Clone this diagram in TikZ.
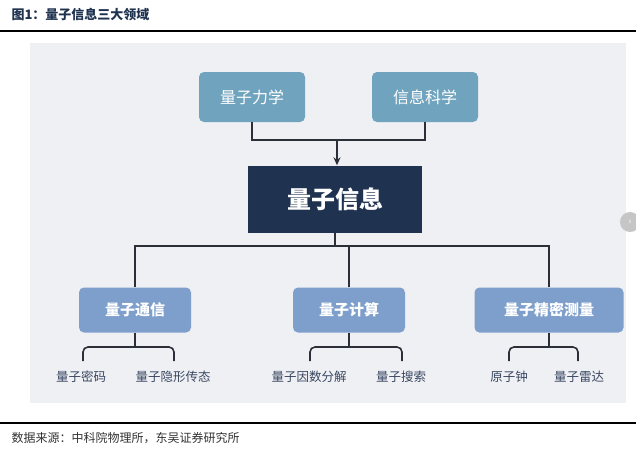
\documentclass[tikz,border=0pt]{standalone}
\usepackage{fontspec}
\setmainfont{Noto Sans CJK SC}
\usetikzlibrary{arrows.meta}
\definecolor{topc}{HTML}{6FA3BE}
\definecolor{midc}{HTML}{7E9FCB}
\definecolor{mainc}{HTML}{1F3350}
\definecolor{panel}{HTML}{EEF0F4}
\definecolor{leaftxt}{HTML}{3A4660}
\definecolor{linec}{HTML}{2A2F38}
\begin{document}
\begin{tikzpicture}[x=1pt,y=-1pt,
  topbox/.style={fill=topc,rounded corners=5pt,minimum width=106pt,minimum height=50pt,text=white,font=\fontsize{16}{16}\selectfont},
  midbox/.style={fill=midc,rounded corners=5pt,minimum height=45pt,text=white,font=\fontsize{15}{15}\selectfont\bfseries},
  leaf/.style={text=leaftxt,font=\fontsize{12.5}{12.5}\selectfont},
  conn/.style={draw=linec,line width=1.6pt},
  br/.style={draw=linec,line width=1.6pt,rounded corners=5pt}]
\useasboundingbox (0,0) rectangle (636,450);
\fill[white] (0,0) rectangle (636,450);
\node[anchor=west,text=mainc,font=\fontsize{13}{13}\selectfont\bfseries] (title) at (8,15) {图1：量子信息三大领域};
\draw[line width=1.4pt] (0,31) -- (636,31);
\fill[panel] (30,43) rectangle (626,403);
\fill[gray!45] (630,222) circle (10pt);
\node[text=white,font=\small] (more) at (630,222) {›};
\node[topbox] (qm) at (252,97) {量子力学};
\node[topbox] (is) at (425,97) {信息科学};
\node[fill=mainc,minimum width=174pt,minimum height=67pt,text=white,font=\fontsize{24}{24}\selectfont\bfseries] (qi) at (335,199) {量子信息};
\node[midbox,minimum width=112pt] (qc) at (135,310) {量子通信};
\node[midbox,minimum width=112pt] (qcomp) at (349,310) {量子计算};
\node[midbox,minimum width=149pt] (qp) at (549,310) {量子精密测量};
\coordinate (j1) at (337,140);
\draw[conn] (qm.south) |- (j1) -| (is.south);
\draw[conn,-{Stealth[length=8pt,width=7pt]}] (j1) -- (j1 |- qi.north);
\coordinate (j2) at (335,246);
\draw[conn] (qi.south) -- (j2);
\draw[conn] (qc.north) |- (j2) -| (qp.north);
\draw[conn] (qcomp.north) -- (349,246);
\node[leaf] (l1) at (81,377) {量子密码};
\node[leaf] (l2) at (173,377) {量子隐形传态};
\node[leaf] (l3) at (309,377) {量子因数分解};
\node[leaf] (l4) at (401,377) {量子搜索};
\node[leaf] (l5) at (509,377) {原子钟};
\node[leaf] (l6) at (579,377) {量子雷达};
\draw[conn] (qc.south) -- (135,347);
\draw[br] (83,361) |- (174,347) -- (174,361);
\draw[conn] (qcomp.south) -- (349,347);
\draw[br] (310,361) |- (402,347) -- (402,361);
\draw[conn] (qp.south) -- (549,347);
\draw[br] (509,361) |- (578,347) -- (578,361);
\draw[line width=1.4pt] (0,423) -- (636,423);
\node[anchor=west,text=black!80,font=\fontsize{12}{12}\selectfont] (src) at (8,438) {数据来源：中科院物理所，东吴证券研究所};
\end{tikzpicture}
\end{document}
